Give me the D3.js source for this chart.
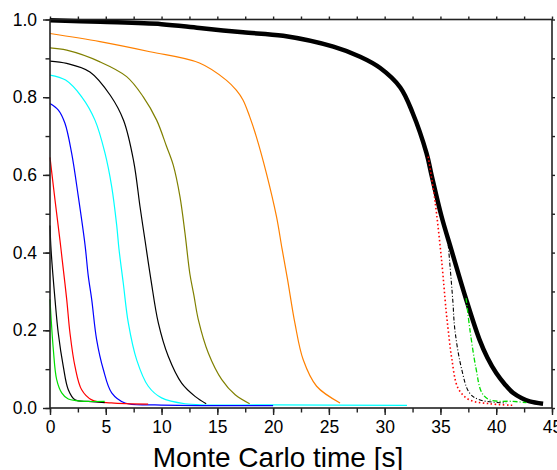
<!DOCTYPE html>
<html>
<head>
<meta charset="utf-8">
<script src="https://cdn.jsdelivr.net/npm/d3@7"></script>
<style>
  body { margin: 0; background: #fff; }
  svg text { font-family: "Liberation Sans", Arial, sans-serif; fill: #000; }
</style>
</head>
<body>
<div id="chart"></div>
<script>
// values (time in s, fraction)
const xTicks = [0, 5, 10, 15, 20, 25, 30, 35, 40, 45]
const yTicks = [0, 0.2, 0.4, 0.6, 0.8, 1.0]

const timeGreen = [0, 0.3, 0.6, 1.05, 1.64, 2.4, 3.1, 4.9]
const fracGreen = [0.28, 0.15, 0.073, 0.039, 0.023, 0.019, 0.017, 0.017]

const timeBlack1 = [0, 0.1, 0.45, 0.74, 1.19, 1.64, 2.24, 3.43, 4.9]
const fracBlack1 = [0.47, 0.405, 0.279, 0.193, 0.107, 0.047, 0.021, 0.017, 0.014]

const timeRed = [0, 0.45, 0.9, 1.1, 1.5, 1.79, 2.24, 2.84, 3.74, 5.5, 8.8]
const fracRed = [0.645, 0.535, 0.43, 0.38, 0.279, 0.193, 0.107, 0.047, 0.021, 0.013, 0.010]

const timeBlue = [0, 0.75, 1.34, 1.94, 2.54, 3.14, 3.43, 3.74, 4.18, 4.78, 5.53, 6.72, 9.4, 20]
const fracBlue = [0.784, 0.767, 0.733, 0.656, 0.544, 0.42, 0.34, 0.279, 0.176, 0.099, 0.039, 0.013, 0.008, 0.006]

const timeCyan = [0, 1.4, 2.84, 4.03, 4.93, 5.53, 5.98, 6.18, 6.57, 7.02, 7.77, 8.81, 10.0, 12.1, 20, 32]
const fracCyan = [0.857, 0.844, 0.801, 0.741, 0.656, 0.57, 0.47, 0.41, 0.321, 0.219, 0.124, 0.056, 0.026, 0.011, 0.008, 0.007]

const timeBlack2 = [0, 1.5, 3.58, 5.4, 6.6, 7.5, 8.07, 8.51, 9.05, 9.71, 10.6, 11.8, 13.0, 14.0]
const fracBlack2 = [0.893, 0.887, 0.865, 0.805, 0.74, 0.635, 0.518, 0.433, 0.33, 0.219, 0.133, 0.064, 0.03, 0.011]

const timeOlive = [0, 1.5, 4.48, 6.87, 8.36, 9.56, 10.45, 11.05, 11.65, 12.1, 12.54, 12.9, 13.3, 14.2, 15.4, 16.6, 17.9]
const fracOlive = [0.927, 0.921, 0.891, 0.853, 0.801, 0.741, 0.673, 0.625, 0.544, 0.45, 0.345, 0.29, 0.227, 0.141, 0.073, 0.034, 0.011]

const timeOrange = [0, 4.48, 8.96, 13.4, 15.8, 16.7, 17.3, 17.9, 18.5, 19.4, 20.3, 20.8, 21.3, 21.95, 22.7, 23.9, 26.0]
const fracOrange = [0.964, 0.943, 0.917, 0.888, 0.844, 0.818, 0.793, 0.75, 0.698, 0.604, 0.493, 0.41, 0.33, 0.219, 0.124, 0.056, 0.013]

const timeMain = [0, 4.5, 10, 13.4, 17.3, 20.9, 25.4, 27.8, 29.6, 31.4, 32.5, 33.75, 34.2, 35.1, 36.0, 37.3, 38.5, 39.2, 40.0, 40.8, 41.5, 42.3, 43.0, 44.2]
const fracMain = [0.998, 0.994, 0.988, 0.978, 0.967, 0.958, 0.93, 0.904, 0.875, 0.825, 0.76, 0.656, 0.6, 0.493, 0.405, 0.28, 0.176, 0.13, 0.09, 0.06, 0.039, 0.025, 0.017, 0.011]

const timeRedDot = [33.9, 34.5, 35.1, 35.5, 35.7, 36.0, 36.6, 37.6, 39.4, 41.5]
const fracRedDot = [0.647, 0.535, 0.381, 0.253, 0.2, 0.13, 0.05, 0.021, 0.011, 0.007]

const timeBlackDash = [35.7, 36.1, 36.3, 36.9, 37.6, 38.5, 40.9]
const fracBlackDash = [0.42, 0.28, 0.2, 0.1, 0.039, 0.021, 0.013]

const timeGreenDash = [37.3, 37.65, 38.2, 38.7, 39.4, 41.5, 42.7]
const fracGreenDash = [0.283, 0.2, 0.1, 0.04, 0.021, 0.017, 0.014]

const series = [
    {t: timeCyan, f: fracCyan, color: '#00ffff', w: 1.2},
    {t: timeBlue, f: fracBlue, color: '#0000ff', w: 1.2},
    {t: timeRed, f: fracRed, color: '#ff0000', w: 1.2},
    {t: timeBlack1, f: fracBlack1, color: '#000000', w: 1.2},
    {t: timeGreen, f: fracGreen, color: '#00dd00', w: 1.2},
    {t: timeBlack2, f: fracBlack2, color: '#000000', w: 1.2},
    {t: timeOlive, f: fracOlive, color: '#808000', w: 1.2},
    {t: timeOrange, f: fracOrange, color: '#ff8000', w: 1.2},
    {t: timeMain, f: fracMain, color: '#000000', w: 4.5},
    {t: timeRedDot, f: fracRedDot, color: '#ff0000', w: 1.6, dash: '1.5,2.5'},
    {t: timeBlackDash, f: fracBlackDash, color: '#000000', w: 1.1, dash: '4,2,1,2'},
    {t: timeGreenDash, f: fracGreenDash, color: '#00dd00', w: 1.3, dash: '5,2,1,2'}
]

const width = 557, height = 470
const margin = {top: 19.5, right: 5, bottom: 62, left: 50}

const svg = d3.select('#chart').append('svg')
    .attr('width', width)
    .attr('height', height)

const x = d3.scaleLinear().domain([0, 45]).range([margin.left, width - margin.right])
const y = d3.scaleLinear().domain([0, 1]).range([height - margin.bottom, margin.top])

const minorX = d3.range(0, 45.01, 2.5)
const minorY = d3.range(0, 1.001, 0.1)

// bottom axis
svg.append('g')
    .attr('transform', `translate(0,${y(0)})`)
    .call(d3.axisBottom(x).tickValues(minorX).tickSize(4.5).tickFormat(''))
    .call(g => g.select('.domain').remove())
svg.append('g')
    .attr('transform', `translate(0,${y(0)})`)
    .call(d3.axisBottom(x).tickValues(xTicks).tickSize(7).tickPadding(6).tickFormat(d3.format('d')))
    .call(g => g.select('.domain').remove())
    .call(g => g.selectAll('text').style('font-size', '17.5px'))

// left axis
svg.append('g')
    .attr('transform', `translate(${x(0)},0)`)
    .call(d3.axisLeft(y).tickValues(minorY).tickSize(4.5).tickFormat(''))
    .call(g => g.select('.domain').remove())
svg.append('g')
    .attr('transform', `translate(${x(0)},0)`)
    .call(d3.axisLeft(y).tickValues(yTicks).tickSize(7).tickPadding(6).tickFormat(d3.format('.1f')))
    .call(g => g.select('.domain').remove())
    .call(g => g.selectAll('text').style('font-size', '17.5px'))

// mirrored small ticks on top and right
svg.append('g')
    .attr('transform', `translate(0,${y(1)})`)
    .call(d3.axisTop(x).tickValues(minorX).tickSize(3).tickFormat(''))
    .call(g => g.select('.domain').remove())
svg.append('g')
    .attr('transform', `translate(${x(45)},0)`)
    .call(d3.axisRight(y).tickValues(minorY).tickSize(3).tickFormat(''))
    .call(g => g.select('.domain').remove())

svg.selectAll('.tick line').attr('stroke', '#222').attr('stroke-width', 1.4)

// curves
const line = d3.line()
    .x(d => x(d[0]))
    .y(d => y(d[1]))
    .curve(d3.curveCatmullRom.alpha(0.5))

series.forEach(s => {
    svg.append('path')
        .datum(s.t.map((t, i) => [t, s.f[i]]))
        .attr('d', line)
        .attr('fill', 'none')
        .attr('stroke', s.color)
        .attr('stroke-width', s.w)
        .attr('stroke-linejoin', 'round')
        .attr('stroke-dasharray', s.dash || null)
})

// frame
svg.append('rect')
    .attr('x', x(0))
    .attr('y', y(1))
    .attr('width', x(45) - x(0))
    .attr('height', y(0) - y(1))
    .attr('fill', 'none')
    .attr('stroke', '#222')
    .attr('stroke-width', 1.6)

svg.append('text')
    .attr('x', 278)
    .attr('y', 467)
    .attr('text-anchor', 'middle')
    .style('font-size', '28px')
    .text('Monte Carlo time [s]')
</script>
</body>
</html>
